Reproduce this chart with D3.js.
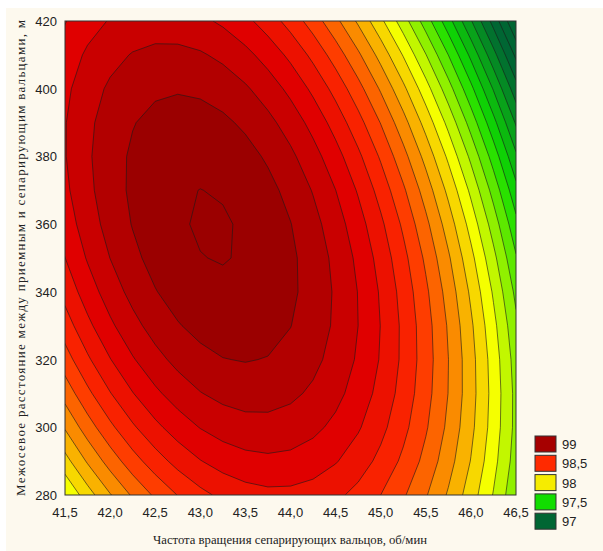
<!DOCTYPE html>
<html>
<head>
<meta charset="utf-8">
<script src="https://cdn.jsdelivr.net/npm/d3@7"></script>
<style>
body { margin: 0; background: #ffffff; }
</style>
</head>
<body>
<div id="grafico"></div>
<script>
const WIDTH = 603;
const HEIGHT = 551;

// grid columns: rotation frequency of separating rolls, rpm
const frequency = [41.5, 41.75, 42.0, 42.25, 42.5, 42.75, 43.0, 43.25, 43.5, 43.75, 44.0,
                   44.25, 44.5, 44.75, 45.0, 45.25, 45.5, 45.75, 46.0, 46.25, 46.5];
// grid rows: centre distance between receiving and separating rolls
const distance = [280, 290, 300, 310, 320, 330, 340, 350, 360, 370, 380, 390, 400, 410, 420];

// response, one row per distance value
const response = [
  [97.900, 98.055, 98.193, 98.314, 98.417, 98.503, 98.572, 98.624, 98.658, 98.675, 98.674, 98.657, 98.622, 98.570, 98.500, 98.413, 98.309, 98.188, 98.049, 97.894, 97.720], // 280
  [98.063, 98.212, 98.343, 98.458, 98.554, 98.634, 98.696, 98.741, 98.769, 98.780, 98.773, 98.749, 98.707, 98.649, 98.573, 98.479, 98.369, 98.241, 98.096, 97.933, 97.754], // 290
  [98.210, 98.352, 98.477, 98.585, 98.675, 98.748, 98.804, 98.843, 98.864, 98.868, 98.855, 98.824, 98.776, 98.711, 98.629, 98.529, 98.412, 98.278, 98.126, 97.957, 97.771], // 300
  [98.340, 98.476, 98.595, 98.696, 98.780, 98.846, 98.896, 98.928, 98.943, 98.940, 98.920, 98.883, 98.829, 98.757, 98.668, 98.562, 98.438, 98.298, 98.140, 97.964, 97.771], // 310
  [98.455, 98.584, 98.696, 98.791, 98.868, 98.928, 98.971, 98.997, 99.005, 98.996, 98.970, 98.926, 98.865, 98.787, 98.692, 98.579, 98.449, 98.301, 98.137, 97.955, 97.756], // 320
  [98.552, 98.675, 98.781, 98.869, 98.940, 98.993, 99.030, 99.049, 99.051, 99.035, 99.002, 98.952, 98.885, 98.800, 98.698, 98.579, 98.443, 98.289, 98.118, 97.929, 97.724], // 330
  [98.634, 98.750, 98.849, 98.931, 98.995, 99.042, 99.072, 99.085, 99.080, 99.058, 99.019, 98.962, 98.888, 98.797, 98.689, 98.563, 98.420, 98.260, 98.082, 97.887, 97.675], // 340
  [98.699, 98.809, 98.901, 98.976, 99.034, 99.075, 99.098, 99.104, 99.093, 99.065, 99.019, 98.956, 98.876, 98.778, 98.663, 98.531, 98.381, 98.215, 98.030, 97.829, 97.610], // 350
  [98.747, 98.851, 98.937, 99.005, 99.057, 99.091, 99.108, 99.108, 99.090, 99.055, 99.003, 98.933, 98.846, 98.742, 98.621, 98.482, 98.326, 98.153, 97.962, 97.754, 97.529], // 360
  [98.779, 98.876, 98.956, 99.018, 99.063, 99.091, 99.101, 99.094, 99.070, 99.029, 98.970, 98.894, 98.801, 98.690, 98.562, 98.417, 98.255, 98.075, 97.878, 97.663, 97.432], // 370
  [98.795, 98.886, 98.959, 99.015, 99.053, 99.074, 99.078, 99.065, 99.034, 98.986, 98.921, 98.838, 98.739, 98.622, 98.487, 98.335, 98.167, 97.980, 97.777, 97.556, 97.318], // 380
  [98.795, 98.879, 98.945, 98.995, 99.027, 99.041, 99.039, 99.019, 98.982, 98.927, 98.856, 98.767, 98.660, 98.537, 98.396, 98.238, 98.062, 97.870, 97.659, 97.432, 97.188], // 390
  [98.778, 98.856, 98.916, 98.958, 98.984, 98.992, 98.983, 98.957, 98.913, 98.852, 98.774, 98.678, 98.566, 98.436, 98.288, 98.124, 97.942, 97.742, 97.526, 97.292, 97.041], // 400
  [98.745, 98.816, 98.869, 98.906, 98.925, 98.926, 98.911, 98.878, 98.828, 98.760, 98.676, 98.574, 98.454, 98.318, 98.164, 97.993, 97.804, 97.599, 97.376, 97.135, 96.878], // 410
  [98.695, 98.760, 98.807, 98.837, 98.849, 98.844, 98.822, 98.783, 98.726, 98.652, 98.561, 98.453, 98.327, 98.184, 98.024, 97.846, 97.651, 97.439, 97.209, 96.963, 96.698]  // 420
];

// contour levels
const levels = [96.7, 96.8, 96.9, 97.0, 97.1, 97.2, 97.3, 97.4, 97.5, 97.6, 97.7, 97.8, 97.9,
                98.0, 98.1, 98.2, 98.3, 98.4, 98.5, 98.6, 98.7, 98.8, 98.9, 99.0, 99.1];

const xTicks = [41.5, 42.0, 42.5, 43.0, 43.5, 44.0, 44.5, 45.0, 45.5, 46.0, 46.5];
const yTicks = [280, 300, 320, 340, 360, 380, 400, 420];
const legendValues = [99, 98.5, 98, 97.5, 97];

const xTitle = "Частота вращения сепарирующих вальцов, об/мин";
const yTitle = "Межосевое расстояние между приемным и сепарирующим вальцами, м";

// palette
const colorStops = [97.0, 97.5, 97.95, 98.5, 98.75, 99.05];
const colorRange = ["#006633", "#11dd00", "#f5ff00", "#ff2a00", "#e00000", "#9b0000"];
let color = d3.scaleLinear().domain(colorStops).range(colorRange).clamp(true);

let svg = d3.select("#grafico")
    .append("svg")
    .attr("width", WIDTH)
    .attr("height", HEIGHT);

svg.append("rect")
    .attr("x", 6)
    .attr("y", 8)
    .attr("width", WIDTH - 6)
    .attr("height", HEIGHT - 8)
    .style("fill", "#fdf9ee");

let x = d3.scaleLinear().domain([41.5, 46.5]).range([65, 516]);
let y = d3.scaleLinear().domain([280, 420]).range([495, 21]);

// grid coordinates -> data values (cell centres sit at i + 0.5)
let xStep = frequency[1] - frequency[0];
let yStep = distance[1] - distance[0];
let gridPath = d3.geoPath(d3.geoTransform({
    point: function(gx, gy) {
        this.stream.point(x(frequency[0] + (gx - 0.5) * xStep), y(distance[0] + (gy - 0.5) * yStep));
    }
}));

let contours = d3.contours()
    .size([frequency.length, distance.length])
    .thresholds(levels)(response.flat());

svg.append("defs")
    .append("clipPath")
    .attr("id", "plot-clip")
    .append("rect")
    .attr("x", 65)
    .attr("y", 21)
    .attr("width", 451)
    .attr("height", 474);

let mapa = svg.append("g").attr("clip-path", "url(#plot-clip)");

mapa.append("rect")
    .attr("x", 65)
    .attr("y", 21)
    .attr("width", 451)
    .attr("height", 474)
    .style("fill", color(levels[0] - 0.05));

mapa.selectAll(".band")
    .data(contours)
    .enter()
    .append("path")
    .attr("class", "band")
    .attr("d", gridPath)
    .style("fill", d => color(d.value + 0.05))
    .style("stroke", "none");

mapa.selectAll(".isoline")
    .data(contours)
    .enter()
    .append("path")
    .attr("class", "isoline")
    .attr("d", gridPath)
    .style("fill", "none")
    .style("stroke", "#1a1a1a")
    .style("stroke-opacity", 0.75)
    .style("stroke-width", 0.8);

svg.append("rect")
    .attr("x", 65)
    .attr("y", 21)
    .attr("width", 451)
    .attr("height", 474)
    .style("fill", "none")
    .style("stroke", "#333")
    .style("stroke-width", 1);

let comma = v => d3.format(".1f")(v).replace(".", ",");

svg.selectAll(".xtick")
    .data(xTicks)
    .enter()
    .append("text")
    .attr("class", "xtick")
    .attr("x", d => x(d))
    .attr("y", 517)
    .attr("text-anchor", "middle")
    .style("font-family", "Liberation Sans, Arial, sans-serif")
    .style("font-size", "13px")
    .style("fill", "#222")
    .text(comma);

svg.selectAll(".ytick")
    .data(yTicks)
    .enter()
    .append("text")
    .attr("class", "ytick")
    .attr("x", 57)
    .attr("y", d => y(d) + 5)
    .attr("text-anchor", "end")
    .style("font-family", "Liberation Sans, Arial, sans-serif")
    .style("font-size", "13px")
    .style("fill", "#222")
    .text(d => d);

svg.append("text")
    .attr("x", 290)
    .attr("y", 544)
    .attr("text-anchor", "middle")
    .attr("textLength", 274)
    .attr("lengthAdjust", "spacingAndGlyphs")
    .style("font-family", "Liberation Serif, Times New Roman, serif")
    .style("font-size", "13px")
    .style("fill", "#222")
    .text(xTitle);

svg.append("text")
    .attr("transform", "translate(25,258) rotate(-90)")
    .attr("text-anchor", "middle")
    .attr("textLength", 476)
    .attr("lengthAdjust", "spacing")
    .style("font-family", "Liberation Serif, Times New Roman, serif")
    .style("font-size", "13px")
    .style("fill", "#222")
    .text(yTitle);

// legend
let legend = svg.append("g");
legend.selectAll("rect")
    .data(legendValues)
    .enter()
    .append("rect")
    .attr("x", 535)
    .attr("y", (d, i) => 436 + i * 19.3)
    .attr("width", 21)
    .attr("height", 16)
    .style("fill", d => color(d))
    .style("stroke", "#333")
    .style("stroke-width", 1);

legend.selectAll("text")
    .data(legendValues)
    .enter()
    .append("text")
    .attr("x", 562)
    .attr("y", (d, i) => 436 + i * 19.3 + 13)
    .style("font-family", "Liberation Sans, Arial, sans-serif")
    .style("font-size", "13px")
    .style("fill", "#222")
    .text(d => String(d).replace(".", ","));
</script>
</body>
</html>
